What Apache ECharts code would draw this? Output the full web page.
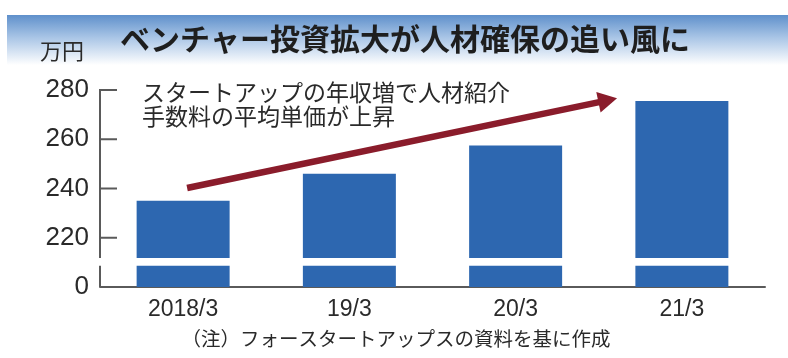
<!DOCTYPE html>
<html><head><meta charset="utf-8">
<script src="https://cdn.jsdelivr.net/npm/echarts@6/dist/echarts.min.js"></script>
<style>html,body{margin:0;padding:0;background:#fff}#c{width:788px;height:358px}</style>
</head><body><div id="c"></div>
<script>
const titleText = 'ベンチャー投資拡大が人材確保の追い風に';
const unitText = '万円';
const categories = ['2018/3', '19/3', '20/3', '21/3'];
const values = [235, 246, 257.5, 275.5];
const yTickValues = [200, 220, 240, 260, 280];
const yTickLabels = ['0', '220', '240', '260', '280'];
const noteLines = ['スタートアップの年収増で人材紹介', '手数料の平均単価が上昇'];
const sourceText = '（注）フォースタートアップスの資料を基に作成';

const CJK = "'Noto Sans CJK JP', 'Noto Sans', sans-serif";
const AXIS = '#5a5a5a';
const chart = echarts.init(document.getElementById('c'), null, {renderer: 'canvas'});
const option = {
  animation: false,
  backgroundColor: '#fff',
  grid: {left: 100, right: 23, top: 90, bottom: 71},
  xAxis: {
    type: 'category', data: categories,
    axisLine: {lineStyle: {color: AXIS, width: 2}},
    axisTick: {show: false},
    axisLabel: {fontFamily: "'Liberation Sans', Arial, sans-serif", fontSize: 23, color: '#2a2a2a', margin: 11}
  },
  yAxis: {
    type: 'value', min: 200, max: 280, interval: 20,
    axisLine: {show: false},
    axisTick: {show: false},
    splitLine: {show: false},
    axisLabel: {
      formatter: v => yTickLabels[yTickValues.indexOf(v)],
      fontFamily: "'Liberation Sans', Arial, sans-serif",
      fontSize: 26, color: '#2a2a2a', margin: 11, padding: [0, 0, 13, 0]
    }
  },
  series: [
    {type: 'bar', data: values, barWidth: 93, itemStyle: {color: '#2d67b0'}, z: 2, silent: true}
  ]
};
chart.setOption(option);

// axis / annotation geometry derived from the chart's own scales
const px = (c, v) => chart.convertToPixel({xAxisIndex: 0, yAxisIndex: 0}, [c, v]);
const step = px(1, 200)[0] - px(0, 200)[0];
const gridL = px(0, 200)[0] - step / 2;
const yMinPx = px(0, 200)[1], yMaxPx = px(0, 280)[1];
const a0 = px(0, 240.2); a0[0] += 0.024 * step;
const a1 = px(2, 276.6); a1[0] += 0.61 * step;
const dx = a1[0] - a0[0], dy = a1[1] - a0[1], len = Math.hypot(dx, dy);
const ux = dx / len, uy = dy / len, nx = -uy, ny = ux;
const headL = 19, headW = 10.5;
const bx = a1[0] - headL * ux, by = a1[1] - headL * uy;
const breakTop = px(0, 211.8)[1], breakBot = px(0, 208.6)[1];

const tickEls = yTickValues.filter(v => v > 200).map(v => {
  const y = px(0, v)[1];
  return {type: 'rect', z: 100, shape: {x: gridL - 1, y: y - 1, width: 18, height: 2}, style: {fill: AXIS}};
});

chart.setOption({
  graphic: [
    {type: 'rect', z: -10, shape: {x: 7, y: 15, width: 781, height: 50},
     style: {fill: new echarts.graphic.LinearGradient(0, 0, 0, 1, [
       {offset: 0, color: '#5f90cb'}, {offset: 0.45, color: '#a9c5e6'}, {offset: 1, color: '#ffffff'}])}},
    {type: 'text', z: 100, x: 40, y: 51, style: {text: unitText, font: "22px " + CJK, fill: '#2a2a2a', verticalAlign: 'middle'}},
    {type: 'text', z: 100, x: 120, y: 39, style: {text: titleText, font: "bold 30px " + CJK, fill: '#1e1e1e', verticalAlign: 'middle'}},
    {type: 'text', z: 100, x: 142, y: 92, style: {text: noteLines[0], font: "23px " + CJK, fill: '#2a2a2a', verticalAlign: 'middle'}},
    {type: 'text', z: 100, x: 142, y: 116.5, style: {text: noteLines[1], font: "23px " + CJK, fill: '#2a2a2a', verticalAlign: 'middle'}},
    {type: 'text', z: 100, x: 396, y: 339, style: {text: sourceText, font: "19.5px " + CJK, fill: '#2a2a2a', align: 'center', verticalAlign: 'middle'}},
    {type: 'rect', z: 100, shape: {x: gridL - 1, y: yMaxPx - 1, width: 2, height: yMinPx - yMaxPx + 1}, style: {fill: AXIS}},
    ...tickEls,
    {type: 'rect', z: 101, shape: {x: gridL - 4, y: breakTop, width: 680, height: breakBot - breakTop}, style: {fill: '#ffffff'}},
    {type: 'line', z: 102, shape: {x1: a0[0], y1: a0[1], x2: bx + 2 * ux, y2: by + 2 * uy},
     style: {stroke: '#8a1c2b', lineWidth: 6.5}},
    {type: 'polygon', z: 103, shape: {points: [[a1[0], a1[1]], [bx + headW * nx, by + headW * ny], [bx - headW * nx, by - headW * ny]]},
     style: {fill: '#8a1c2b'}}
  ]
});
</script></body></html>
